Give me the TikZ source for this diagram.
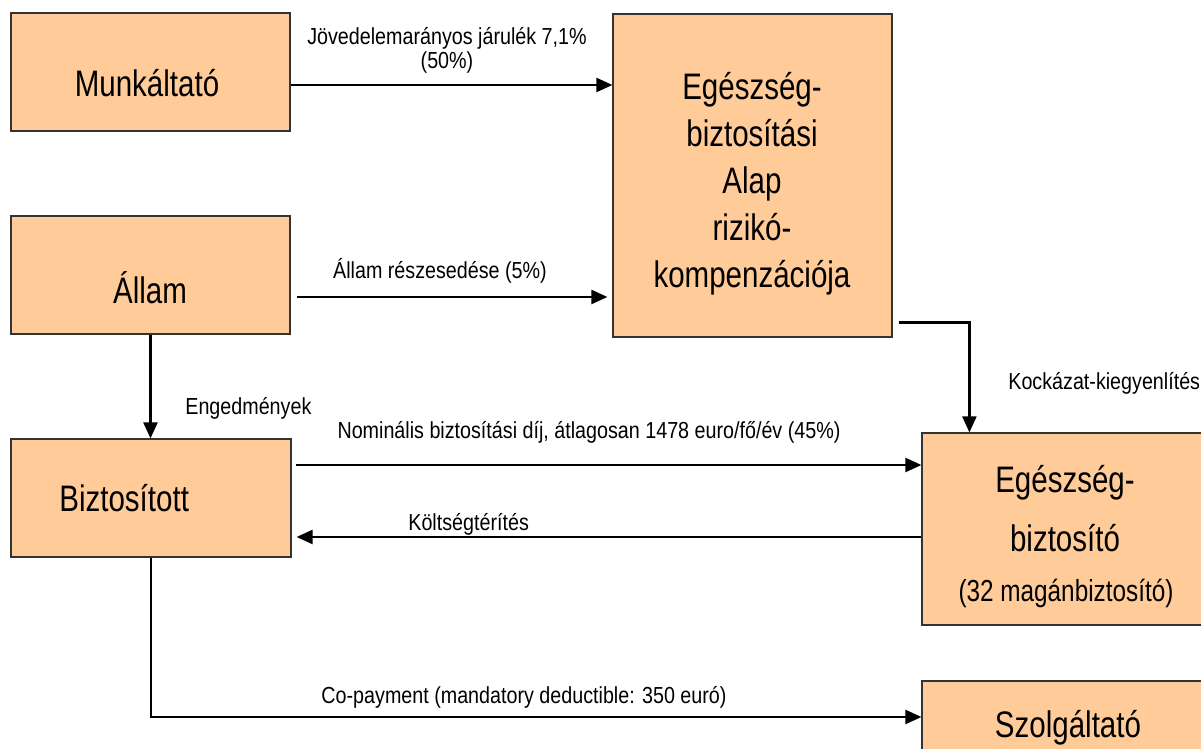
\documentclass[tikz,border=0pt]{standalone}
\usepackage{fontspec}
\setmainfont{Liberation Sans}
\newfontfamily\boxfont[FakeStretch=0.8]{Liberation Sans}
\newfontfamily\lblfont[FakeStretch=0.85]{Liberation Sans}
\usetikzlibrary{arrows.meta}
\definecolor{peach}{RGB}{255,204,153}
\tikzset{
	box/.style={shape=rectangle, draw=black!80, line width=0.7pt, fill=peach},
	flow/.style={line width=1.3pt, -{Triangle[length=0.32cm, width=0.28cm]}},
	boxtxt/.style={anchor=base, inner sep=0pt, font=\boxfont\fontsize{21pt}{25pt}\selectfont},
	midtxt/.style={anchor=base, inner sep=0pt, font=\boxfont\fontsize{17.3pt}{21pt}\selectfont},
	lbl/.style={anchor=base, inner sep=0pt, font=\lblfont\fontsize{13.2pt}{15pt}\selectfont}
}

\begin{document}
\begin{tikzpicture}[x=0.02cm, y=-0.02cm]
	\useasboundingbox (0, 0) rectangle (1201, 749);
	% Boxes:
	\node[box, minimum width=5.58cm, minimum height=2.36cm] (munk) at (150.5, 72) {};
	\node[box, minimum width=5.58cm, minimum height=6.46cm] (alap) at (752.5, 175.5) {};
	\node[box, minimum width=5.58cm, minimum height=2.36cm] (allam) at (150.5, 275) {};
	\node[box, minimum width=5.6cm, minimum height=2.36cm] (bizt) at (151, 498) {};
	\node[box, minimum width=5.68cm, minimum height=3.84cm] (ebizt) at (1064, 529) {};
	\node[box, minimum width=5.68cm, minimum height=1.6cm] (szolg) at (1064, 721) {};
	% Box texts:
	\node[boxtxt] (munk-txt) at (147, 97) {Munkáltató};
	\foreach \txt [count=\i] in {Egészség-, biztosítási, Alap, rizikó-, kompenzációja}
		\node[boxtxt] (alap-txt\i) at (752, 100+47*\i-47) {\txt};
	\node[boxtxt] (allam-txt) at (150, 304) {Állam};
	\node[boxtxt, anchor=base west] (bizt-txt) at (59, 512) {Biztosított};
	\node[boxtxt] (ebizt-txt1) at (1065, 493) {Egészség-};
	\node[boxtxt] (ebizt-txt2) at (1065, 552) {biztosító};
	\node[midtxt] (ebizt-txt3) at (1066, 602) {(32 magánbiztosító)};
	\node[boxtxt] (szolg-txt) at (1068, 738) {Szolgáltató};
	% Paths, labels and wires:
	\draw[flow] ([yshift=-0.26cm]munk.east) -- ([yshift=-0.26cm]munk.east -| alap.west);
	\node[lbl] (jarulek1) at (447, 45) {Jövedelemarányos járulék 7,1\%};
	\node[lbl] (jarulek2) at (447, 69) {(50\%)};
	\draw[flow, shorten <=0.12cm, shorten >=0.1cm] ([yshift=-0.44cm]allam.east) -- ([yshift=-0.44cm]allam.east -| alap.west);
	\node[lbl] (reszesedes) at (440, 279) {Állam részesedése (5\%)};
	\draw[flow] ([xshift=0.12cm, yshift=0.3cm]alap.south east) -| ([xshift=0.96cm]ebizt.north west);
	\node[lbl, anchor=base west] (kockazat) at (1008, 390) {Kockázat-kiegyenlítés};
	\draw[flow] (allam.south) -- (allam.south |- bizt.north);
	\node[lbl, anchor=base west] (engedm) at (185, 415) {Engedmények};
	\draw[flow, shorten <=0.08cm] ([yshift=0.66cm]bizt.east) -- ([yshift=0.66cm]bizt.east -| ebizt.west);
	\node[lbl] (nominalis) at (589, 439) {Nominális biztosítási díj, átlagosan 1478 euro/fő/év (45\%)};
	\draw[flow, shorten >=0.1cm] ([yshift=-0.78cm]bizt.east -| ebizt.west) -- ([yshift=-0.78cm]bizt.east);
	\node[lbl, anchor=base west] (koltseg) at (408, 531) {Költségtérítés};
	\draw[flow] (bizt.south) |- ([yshift=0.08cm]szolg.west);
	\node[lbl] (copay) at (524, 704) {Co-payment (mandatory deductible: 350 euró)};
\end{tikzpicture}
\end{document}
